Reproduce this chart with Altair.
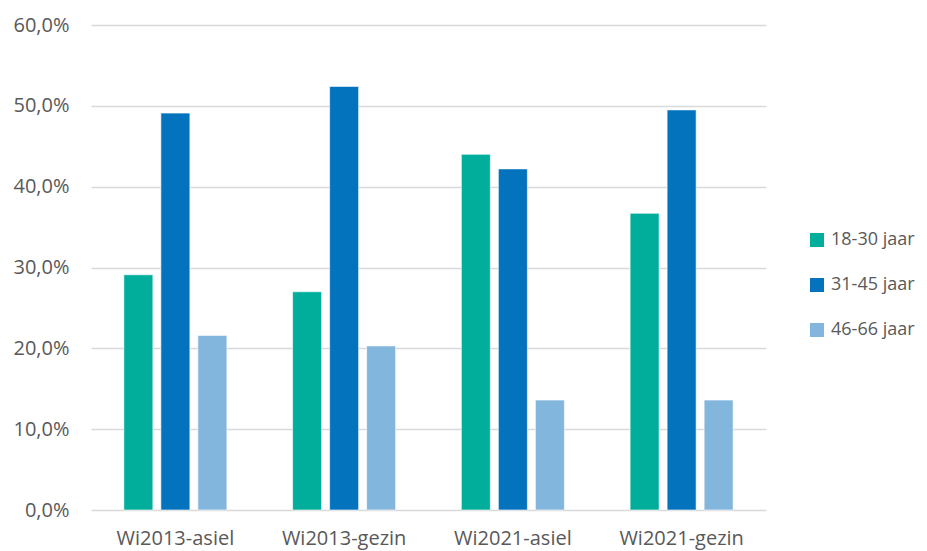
import altair as alt
import pandas as pd

groups = ["Wi2013-asiel", "Wi2013-gezin", "Wi2021-asiel", "Wi2021-gezin"]
series = ["18-30 jaar", "31-45 jaar", "46-66 jaar"]
v_18_30 = [0.291, 0.270, 0.440, 0.367]
v_31_45 = [0.491, 0.524, 0.422, 0.495]
v_46_66 = [0.216, 0.203, 0.136, 0.136]
colors = ["#00AE9B", "#0473BE", "#83B6DD"]

rows = []
for vals, s in zip([v_18_30, v_31_45, v_46_66], series):
    for g, v in zip(groups, vals):
        rows.append({"groep": g, "leeftijd": s, "aandeel": v})
df = pd.DataFrame(rows)

font = "Open Sans"
txt = "#595959"

chart = alt.Chart(df).mark_bar(stroke="white", strokeWidth=0.6).encode(
    x=alt.X("groep:N", sort=groups, title=None,
            scale=alt.Scale(paddingInner=0.342, paddingOuter=0.171),
            axis=alt.Axis(labelAngle=0, ticks=False, domain=False, labelPadding=18,
                          labelFontSize=20, labelColor=txt, labelFont=font)),
    xOffset=alt.XOffset("leeftijd:N", sort=series,
                        scale=alt.Scale(paddingInner=0.216, paddingOuter=0.108)),
    y=alt.Y("aandeel:Q", title=None,
            scale=alt.Scale(domain=[0, 0.6], nice=False),
            axis=alt.Axis(values=[0, 0.1, 0.2, 0.3, 0.4, 0.5, 0.6],
                          labelExpr="replace(format(datum.value*100, '.1f'), '.', ',') + '%'",
                          ticks=False, domain=False, labelPadding=22,
                          labelFontSize=20, labelColor=txt, labelFont=font,
                          gridColor="#D9D9D9", gridWidth=1.5)),
    color=alt.Color("leeftijd:N", sort=series,
                    scale=alt.Scale(domain=series, range=colors),
                    legend=alt.Legend(title=None, orient="none", legendX=717, legendY=206,
                                      symbolType="square", symbolSize=196,
                                      symbolStrokeWidth=0,
                                      labelFontSize=18, labelColor=txt, labelFont=font,
                                      rowPadding=27, labelOffset=5)),
).properties(
    width=675, height=485,
    autosize=alt.AutoSizeParams(type="none"),
    padding={"left": 83, "top": 17, "right": 152, "bottom": 40},
).configure_view(stroke=None)

chart.save("out.html", embed_options={"renderer": "svg", "actions": False})
